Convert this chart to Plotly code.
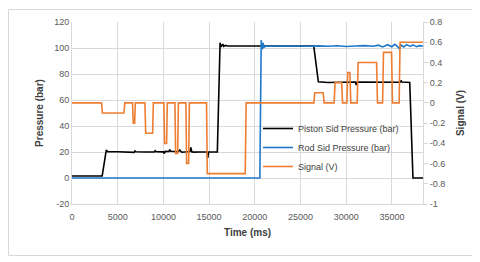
import plotly.graph_objects as go

# ---------------- data ----------------
piston_t = [0, 3300, 3750, 3900, 5000, 6000, 6800, 6900, 7000, 8000, 9000, 9100, 9200,
            10000, 10100, 10200, 10600, 10700, 10800, 11600, 11800, 11900, 12000, 12900,
            13000, 13100, 13300, 14000, 14800, 14850, 14950, 15900, 16200, 16300, 16500,
            16600, 16800, 17000, 18000, 26450, 26950, 28000, 31000, 31100, 31200, 35900,
            36000, 36100, 36950, 37300, 38400]
piston_p = [1.5, 1.5, 21.5, 20.3, 20.2, 20.1, 19.7, 20.8, 20.2, 20.0, 20.0, 21.0, 20.2,
            20.1, 18.8, 20.5, 20.4, 21.8, 20.6, 20.2, 21.5, 20.5, 19.8, 20.3,
            23.5, 20.2, 19.9, 20.0, 20.0, 15.5, 20.0, 20.0, 104, 101, 103,
            101.2, 102, 101.5, 101.5, 101.5, 74, 73.5, 73.8, 71.5, 73.8, 73.6,
            75, 73.8, 73.5, 0, 0]

rod_t = [0, 20550, 20700, 20800, 20900, 21000, 21200, 22000, 23000, 24000, 25000, 26000,
         27000, 28000, 29000, 30000, 31000, 32000, 33000, 33500, 34000, 34500, 35000,
         35300, 35600, 35800, 36000, 36300, 36600, 37000, 37300, 37700, 38000, 38400]
rod_p = [0, 0, 106, 99, 104, 100.5, 101.5, 101.3, 101.7, 101.4, 101.6, 101.3,
         101.6, 101.3, 101.7, 101.2, 101.5, 101.8, 101.3, 102.2, 100.8, 102.5, 101.0,
         102.8, 101.2, 99.5, 102.3, 100.8, 102.6, 101.2, 102.4, 101.0, 101.8, 101.5]

signal_t = [0, 3230, 3330, 5680, 5780, 6620, 6700, 6850, 6930, 7980, 8060, 8820, 8900,
            10050, 10130, 10350, 10430, 11260, 11340, 11560, 11640, 12460, 12540, 12760,
            12840, 14720, 14800, 18950, 19050, 26460, 26560, 27480, 27580, 28680, 28780,
            29500, 29600, 30070, 30170, 30400, 30500, 31200, 31300, 33320, 33420, 33980,
            34080, 34960, 35060, 35790, 35890, 38400]
signal_v = [0, 0, -0.1, -0.1, 0, 0, -0.2, -0.2, 0, 0, -0.3, -0.3, 0,
            0, -0.4, -0.4, 0, 0, -0.5, -0.5, 0, 0, -0.6, -0.6,
            0, 0, -0.7, -0.7, 0, 0, 0.1, 0.1, 0, 0, 0.2,
            0.2, 0, 0, 0.3, 0.3, 0, 0, 0.4, 0.4, 0, 0,
            0.5, 0.5, 0, 0, 0.6, 0.6]

x_ticks = [0, 5000, 10000, 15000, 20000, 25000, 30000, 35000]
x_labels = ["0", "5000", "10000", "15000", "20000", "25000", "30000", "35000"]
left_ticks = [-20, 0, 20, 40, 60, 80, 100, 120]
left_labels = ["-20", "0", "20", "40", "60", "80", "100", "120"]
right_ticks = [-1, -0.8, -0.6, -0.4, -0.2, 0, 0.2, 0.4, 0.6, 0.8]
right_labels = ["-1", "-0.8", "-0.6", "-0.4", "-0.2", "0", "0.2", "0.4", "0.6", "0.8"]

# ---------------- figure ----------------
FONT = "Liberation Sans"
TICK_COL = "#595959"
GRID = "#D9D9D9"

fig = go.Figure()
fig.add_trace(go.Scatter(x=piston_t, y=piston_p, mode="lines", name="Piston Sid Pressure (bar)",
                         line=dict(color="#000000", width=1.6)))
fig.add_trace(go.Scatter(x=rod_t, y=rod_p, mode="lines", name="Rod Sid Pressure (bar)",
                         line=dict(color="#1F78C8", width=1.6)))
fig.add_trace(go.Scatter(x=signal_t, y=signal_v, mode="lines", name="Signal (V)", yaxis="y2",
                         line=dict(color="#ED7D31", width=1.6)))

# page offset of the plot div (body margin)
OFF = 8
W, H = 466, 250
# plot area in page pixels
PX0, PX1, PY0, PY1 = 72, 423, 22, 204
L, R, T, B = PX0 - OFF, W - (PX1 - OFF), PY0 - OFF, H - (PY1 - OFF)
pw, ph = W - L - R, H - T - B

def px_x(p):
    return (p - OFF - L) / pw

def px_y(p):
    return (H - B - (p - OFF)) / ph

fig.update_layout(
    width=W, height=H,
    margin=dict(l=L, r=R, t=T, b=B, autoexpand=False),
    paper_bgcolor="white", plot_bgcolor="white",
    font=dict(family=FONT, size=9, color=TICK_COL),
    showlegend=True,
    legend=dict(x=px_x(258), y=px_y(114), xanchor="left", yanchor="top",
                bgcolor="rgba(0,0,0,0)", font=dict(size=9, color="#404040"),
                tracegroupgap=0, itemwidth=30),
    xaxis=dict(range=[0, 38400], tickvals=x_ticks, ticktext=x_labels,
               showgrid=True, gridcolor=GRID, gridwidth=1, zeroline=False,
               showline=True, linecolor=GRID, ticks="", ticklabelstandoff=4,
               title=dict(text="<b>Time (ms)</b>", font=dict(size=10, color="#404040"), standoff=8)),
    yaxis=dict(range=[-20, 120], tickvals=left_ticks, ticktext=left_labels,
               showgrid=True, gridcolor=GRID, gridwidth=1, zeroline=False,
               showline=True, linecolor=GRID, ticks="",
               title=dict(text="<b>Pressure (bar)</b>", font=dict(size=10, color="#404040"), standoff=8)),
    yaxis2=dict(range=[-1, 0.8], tickvals=right_ticks, ticktext=right_labels,
                overlaying="y", side="right", showgrid=False, zeroline=False,
                showline=True, linecolor=GRID, ticks="outside", ticklen=4, tickcolor=GRID,
                title=dict(text="<b>Signal (V)</b>", font=dict(size=10, color="#404040"), standoff=12)),
    shapes=[dict(type="rect", xref="paper", yref="paper",
                 x0=px_x(8.5), x1=px_x(472.5), y0=px_y(255.5), y1=px_y(9.5),
                 line=dict(color="#D9D9D9", width=1), fillcolor="rgba(0,0,0,0)", layer="below")],
)

fig.write_html("out.html")
